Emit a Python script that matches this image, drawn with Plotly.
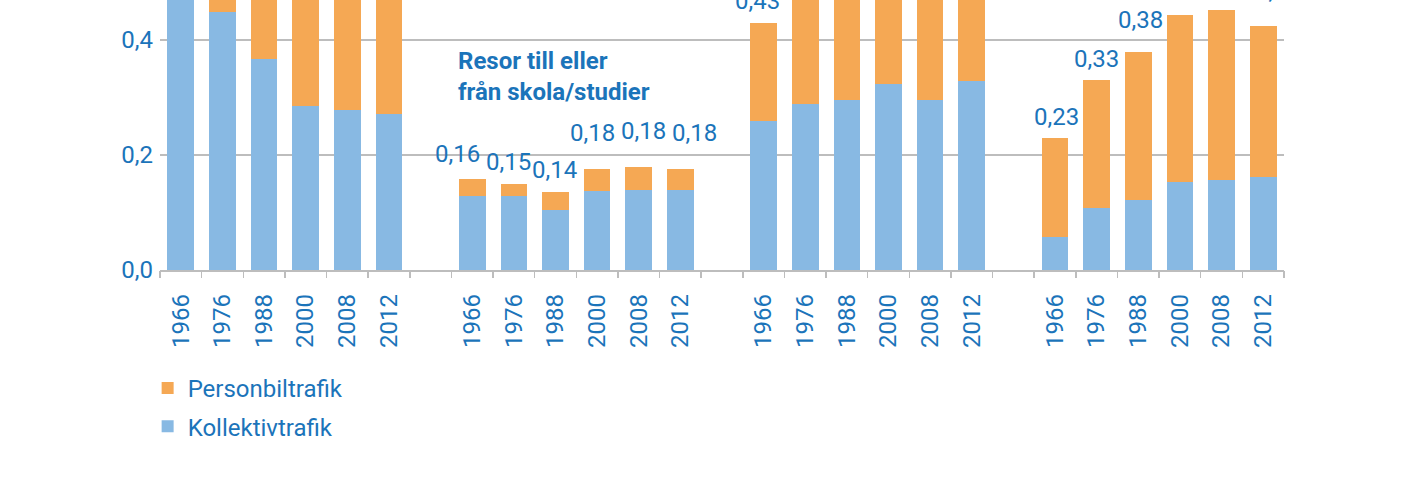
import plotly.graph_objects as go

# ---- data -------------------------------------------------------------
years = ["1966", "1976", "1988", "2000", "2008", "2012"]
n_groups = 4

kollektivtrafik = [
    0.530, 0.449, 0.367, 0.286, 0.279, 0.271,
    0.129, 0.129, 0.104, 0.137, 0.139, 0.139,
    0.259, 0.289, 0.295, 0.324, 0.295, 0.329,
    0.058, 0.108, 0.122, 0.153, 0.157, 0.162,
]
personbiltrafik = [
    0.080, 0.180, 0.290, 0.390, 0.380, 0.370,
    0.030, 0.021, 0.032, 0.039, 0.040, 0.037,
    0.171, 0.280, 0.300, 0.300, 0.310, 0.260,
    0.171, 0.222, 0.257, 0.290, 0.295, 0.262,
]
group_title = "Resor till eller<br>från skola/studier"
title_group = 1

# label placement (pixels) relative to the top of each stacked bar
label_dy = [22] * 6 + [25, 22, 22, 36, 36, 36] + [22] * 6 + [21, 21, 32, 44, 44, 35]
label_dx = [0] * 6 + [-15, -5, -1, -5, 5, 14] + [-6, 0, 0, 0, 0, 0] + [1, 0, 2, 0, 0, 14]

# ---- style ------------------------------------------------------------
ORANGE = "#F5A854"
BLUE = "#88B9E3"
TXT = "#1B74BA"
GRID = "#BDBDBD"
FONT = "Roboto"
BAR_W = 0.64
GAP = 1  # empty slot between groups

slots = len(years) + GAP
xpos = [g * slots + i for g in range(n_groups) for i in range(len(years))]
xlabels = years * n_groups
totals = [k + p for k, p in zip(kollektivtrafik, personbiltrafik)]
xmin = -0.5
xmax = n_groups * slots - GAP - 0.5
boundaries = [b + 0.5 for b in range(-1, n_groups * slots - GAP)]

fig = go.Figure()
fig.add_trace(go.Bar(
    x=xpos, y=kollektivtrafik, name="Kollektivtrafik", width=BAR_W,
    marker=dict(color=BLUE, line=dict(width=0)), legendgroup="k", legendrank=2,
))
fig.add_trace(go.Bar(
    x=xpos, y=personbiltrafik, name="Personbiltrafik", width=BAR_W,
    marker=dict(color=ORANGE, line=dict(width=0)), legendgroup="p", legendrank=1,
))
# helper trace for the boundary tick marks axis
fig.add_trace(go.Scatter(x=[xmin, xmax], y=[0, 0], xaxis="x2", mode="lines",
                         line=dict(width=0), showlegend=False, hoverinfo="skip"))

for x, t, dy, dx in zip(xpos, totals, label_dy, label_dx):
    fig.add_annotation(
        x=x, y=t, xref="x", yref="y", text=f"{t:.2f}".replace(".", ","),
        showarrow=False, yanchor="middle", xanchor="center",
        yshift=dy, xshift=dx, font=dict(family=FONT, size=24, color=TXT),
    )

fig.add_annotation(
    x=xpos[title_group * len(years)] - BAR_W / 2, y=0.3365, xref="x", yref="y",
    text="<b>" + group_title.replace("<br>", "</b><br><b>") + "</b>",
    showarrow=False, xanchor="left", yanchor="middle", align="left", xshift=-3,
    font=dict(family=FONT, size=24, color=TXT),
)

fig.update_layout(
    width=1428, height=482,
    margin=dict(l=160, r=144, t=0, b=212, pad=0),
    barmode="stack", bargap=0, hovermode=False,
    plot_bgcolor="white", paper_bgcolor="white",
    separators=",.",
    font=dict(family=FONT, size=24, color=TXT),
    showlegend=True,
    legend=dict(
        traceorder="grouped", x=-0.011, y=-0.355, xanchor="left", yanchor="top",
        font=dict(family=FONT, size=24, color=TXT), tracegroupgap=4,
        bgcolor="rgba(0,0,0,0)",
    ),
    xaxis=dict(
        range=[xmin, xmax], tickmode="array", tickvals=xpos, ticktext=xlabels,
        tickangle=-90, ticks="", showgrid=False, zeroline=False,
        showline=True, linecolor=GRID, linewidth=1.5,
        tickfont=dict(family=FONT, size=24, color=TXT), ticklabelstandoff=13,
    ),
    xaxis2=dict(
        range=[xmin, xmax], overlaying="x", anchor="y", side="bottom",
        tickmode="array", tickvals=boundaries, ticks="outside", ticklen=7,
        tickwidth=1.5, tickcolor=GRID, showticklabels=False, showgrid=False,
        zeroline=False, showline=False,
    ),
    yaxis=dict(
        range=[0, 0.4696], tickmode="array", tickvals=[0, 0.2, 0.4],
        tickformat=".1f", showgrid=True, gridcolor=GRID, gridwidth=1.5,
        zeroline=False, showline=False, ticks="",
        tickfont=dict(family=FONT, size=24, color=TXT), ticklabelstandoff=6,
    ),
)

fig.write_html(
    "out.html",
    config={"displayModeBar": False, "staticPlot": True},
    post_script="document.body.style.margin='0';",
)
